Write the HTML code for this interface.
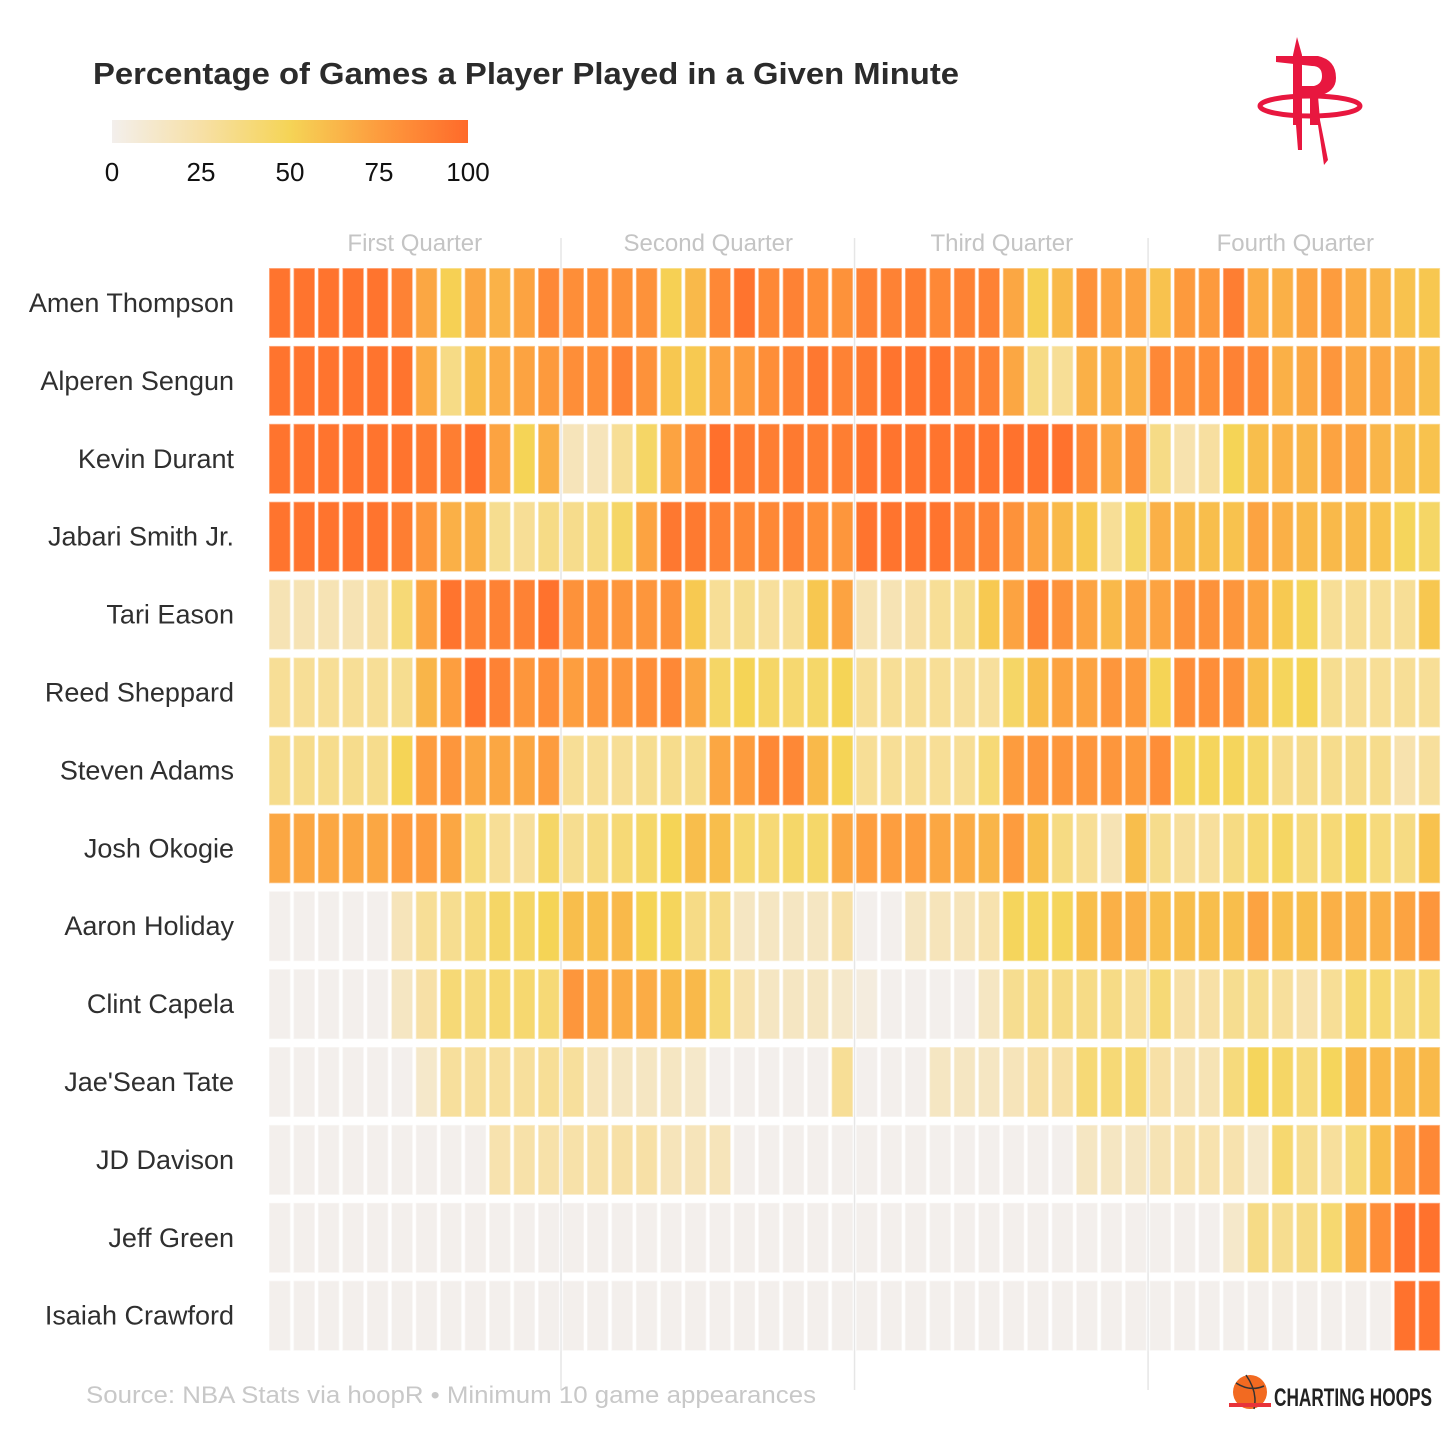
<!DOCTYPE html>
<html><head><meta charset="utf-8"><style>
html,body{margin:0;padding:0;background:#fff}
svg{display:block}
text{font-family:"Liberation Sans",sans-serif}
</style></head><body>
<svg id="chart" width="1456" height="1456" viewBox="0 0 1456 1456" xmlns="http://www.w3.org/2000/svg">
<text x="93" y="84" font-size="31" font-weight="bold" fill="#2b2b2b" textLength="866" lengthAdjust="spacingAndGlyphs">Percentage of Games a Player Played in a Given Minute</text>
<defs><linearGradient id="lg" x1="0" x2="1" y1="0" y2="0">
<stop offset="0" stop-color="#f3efec"/><stop offset="0.25" stop-color="#f7e0a6"/><stop offset="0.5" stop-color="#f5d456"/><stop offset="0.75" stop-color="#fd9c3e"/><stop offset="1" stop-color="#ff6a2a"/></linearGradient></defs>
<g>
<rect x="112" y="120" width="356" height="23" fill="url(#lg)"/>
<g id="legendTicks" font-size="26" fill="#111" text-anchor="middle"></g>
</g>
<g fill="#e8173f">
<ellipse cx="1310" cy="106" rx="50" ry="10" fill="none" stroke="#e8173f" stroke-width="5"/>
<path d="M1297 37 L1302 55 L1302 150 L1298 150 L1296 125 L1293 125 L1293 55 Z"/>
<path d="M1276 56 L1318 56 Q1336 60 1336 78 Q1336 92 1318 96 L1320 120 L1328 160 L1324 165 L1318 125 L1310 125 L1310 96 L1302 96 L1302 86 L1314 86 Q1322 84 1322 76 Q1322 66 1312 66 L1276 62 Z"/>
</g>
<g id="quarters" font-size="24" fill="#c4c4c4" text-anchor="middle"></g>
<g id="grid"></g>
<g id="labels" font-size="27" fill="#2f2f2f" text-anchor="end"></g>
<g id="cells"></g>
<text x="86" y="1403" font-size="24" fill="#c8c8c8" textLength="730" lengthAdjust="spacingAndGlyphs">Source: NBA Stats via hoopR • Minimum 10 game appearances</text>
<g>
<circle cx="1250" cy="1392" r="17" fill="#f26a21"/>
<path d="M1236 1383 Q1250 1392 1264 1386 M1246 1375 Q1258 1392 1254 1409" stroke="#333" stroke-width="1.5" fill="none"/>
<rect x="1229" y="1403" width="42" height="4" fill="#e8333a"/>
<text x="1274" y="1406" font-size="25" font-weight="bold" fill="#222" textLength="158" lengthAdjust="spacingAndGlyphs">CHARTING HOOPS</text>
</g>
</svg>
<script>
const players = ["Amen Thompson","Alperen Sengun","Kevin Durant","Jabari Smith Jr.","Tari Eason","Reed Sheppard","Steven Adams","Josh Okogie","Aaron Holiday","Clint Capela","Jae'Sean Tate","JD Davison","Jeff Green","Isaiah Crawford"];
const quarterLabels = ["First Quarter","Second Quarter","Third Quarter","Fourth Quarter"];
const legendTicks = [0,25,50,75,100];
const amen = [95,95,95,95,95,88,70,52,70,65,72,85,82,82,80,80,52,62,85,95,85,88,82,80, 88,88,90,85,88,88,70,52,62,80,72,72,58,76,76,90,68,66,72,75,68,64,58,56];
const sengun = [95,95,95,95,95,95,68,35,60,68,72,76,82,82,88,80,56,55,72,75,82,88,93,88, 92,95,95,95,88,88,70,35,30,66,66,66,85,82,82,88,85,66,70,78,70,70,66,60];
const durant = [95,95,95,95,95,95,92,90,97,72,50,66,18,18,30,45,72,84,97,92,90,92,90,90, 95,95,95,95,95,95,96,96,96,84,70,80,35,22,27,50,60,65,64,72,72,64,60,58];
const jabari = [95,95,95,95,95,90,78,66,66,32,30,35,33,36,45,72,93,92,88,85,85,88,82,78, 95,95,95,95,88,88,80,72,62,55,30,45,66,62,60,58,72,66,62,62,62,58,48,45];
const tari = [20,20,20,20,25,40,72,95,88,88,88,96,80,80,78,78,80,55,30,32,28,30,56,72, 20,20,25,30,32,55,72,88,80,72,62,72,72,80,80,78,72,55,48,30,30,30,30,56];
const reed = [30,30,30,30,30,32,64,74,95,88,78,82,74,78,78,82,85,70,45,50,45,42,44,50, 30,30,30,30,28,28,45,60,72,72,78,76,50,82,82,80,60,48,50,32,30,30,30,30];
const adams = [33,33,33,33,33,50,75,78,70,70,70,75,30,30,30,32,33,33,70,75,85,85,62,50, 30,30,30,30,30,40,75,78,78,78,78,76,82,48,48,48,44,33,33,33,33,33,22,28];
const okogie = [70,70,70,70,70,75,75,70,38,30,28,45,32,36,40,44,50,60,60,42,40,44,44,70, 74,74,74,70,68,64,75,60,36,30,20,60,33,28,28,36,42,46,38,40,46,38,36,58];
const holiday = [0,0,0,0,0,18,30,32,38,45,45,50,60,60,62,50,48,35,35,15,15,15,15,25, 0,0,15,18,18,22,48,48,48,60,66,66,60,60,60,60,72,60,60,66,66,66,72,78];
const capela = [0,0,0,0,0,15,25,40,38,42,42,40,78,72,68,68,62,62,40,22,15,15,15,12, 5,0,0,0,0,15,32,35,35,35,35,30,40,25,25,32,32,28,22,30,42,42,38,40];
const tate = [0,0,0,0,0,0,12,28,28,28,28,30,28,18,15,15,15,12,0,0,0,0,0,30, 0,0,0,15,15,15,18,25,25,40,40,40,25,20,20,38,48,45,38,48,62,62,62,62];
const davison = [0,0,0,0,0,0,0,0,0,22,24,24,24,24,25,25,18,18,18,0,0,0,0,0, 0,0,0,0,0,0,0,0,0,15,15,15,20,22,22,22,12,42,32,28,38,60,75,85];
const green = [0,0,0,0,0,0,0,0,0,0,0,0,0,0,0,0,0,0,0,0,0,0,0,0, 0,0,0,0,0,0,0,0,0,0,0,0,0,0,0,12,35,32,35,42,68,82,96,96];
const crawford = [0,0,0,0,0,0,0,0,0,0,0,0,0,0,0,0,0,0,0,0,0,0,0,0, 0,0,0,0,0,0,0,0,0,0,0,0,0,0,0,0,0,0,0,0,0,0,96,96];
const series = [amen,sengun,durant,jabari,tari,reed,adams,okogie,holiday,capela,tate,davison,green,crawford];

const NS="http://www.w3.org/2000/svg";
const X0=268, CW=24.46, Y0=268, RP=77.9, RH=70;
function xScale(m){return X0+m*CW;}
function yScale(r){return Y0+r*RP;}
function lx(v){return 112+v*3.56;}
const stops=[[0,[243,239,236]],[25,[247,224,166]],[50,[245,212,86]],[75,[253,156,62]],[100,[255,106,42]]];
function color(v){
  for(let i=0;i<stops.length-1;i++){
    const a=stops[i],b=stops[i+1];
    if(v<=b[0]){const t=(v-a[0])/(b[0]-a[0]);
      const c=a[1].map((x,k)=>Math.round(x+(b[1][k]-x)*t));
      return "rgb("+c.join(",")+")";}
  }
  return "rgb(255,106,42)";
}
function mk(tag,attrs,parent){const e=document.createElementNS(NS,tag);for(const k in attrs)e.setAttribute(k,attrs[k]);parent.appendChild(e);return e;}

const lt=document.getElementById('legendTicks');
legendTicks.forEach(v=>{const t=mk('text',{x:lx(v),y:181},lt);t.textContent=v;

});

const q=document.getElementById('quarters');
quarterLabels.forEach((s,i)=>{const t=mk('text',{x:xScale(i*12+6),y:251},q);t.textContent=s;

});

const g=document.getElementById('grid');
[1,2,3].forEach(i=>{const l=mk('line',{x1:xScale(i*12)-0.5,x2:xScale(i*12)-0.5,y1:238,y2:1390,stroke:'#e6e6e6','stroke-width':1.5},g);

});

const lb=document.getElementById('labels');
players.forEach((p,r)=>{const t=mk('text',{x:234,y:yScale(r)+RH/2+9},lb);t.textContent=p;

});

const cg=document.getElementById('cells');
series.forEach((row,r)=>{row.forEach((v,m)=>{
  const c=color(v);
  const e=mk('rect',{x:xScale(m)+1,y:yScale(r),width:CW-3,height:RH,fill:c,stroke:'rgba(255,255,255,0.45)','stroke-width':1.5},cg);
  
  
});});
</script>
</body></html>
